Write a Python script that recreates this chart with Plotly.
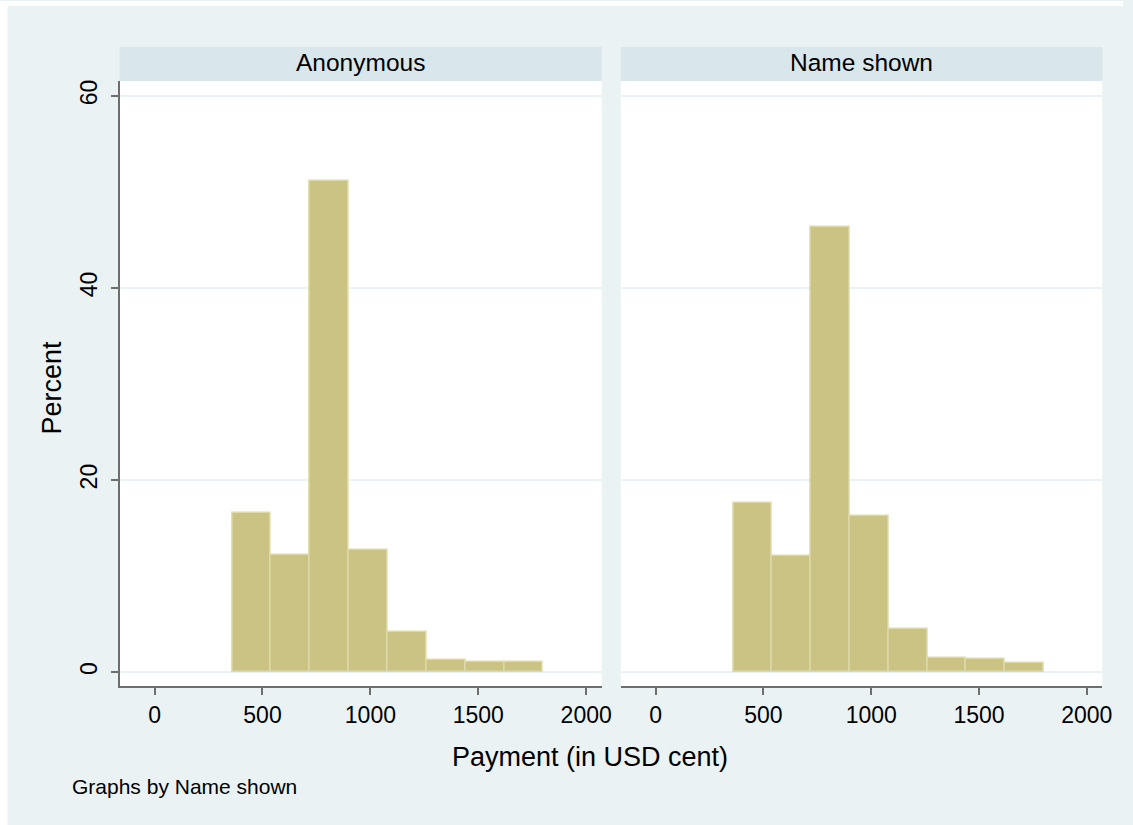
import plotly.graph_objects as go

# ---- data ----
bin_left = [360, 540, 720, 900, 1080, 1260, 1440, 1620]
bin_width = 180
anonymous_pct = [16.6, 12.2, 51.2, 12.7, 4.2, 1.3, 1.1, 1.1]
name_shown_pct = [17.6, 12.1, 46.4, 16.3, 4.5, 1.5, 1.4, 1.0]
panel_titles = ["Anonymous", "Name shown"]
x_ticks = [0, 500, 1000, 1500, 2000]
y_ticks = [0, 20, 40, 60]

W, H = 1133, 825
SX = 0.99  # observed horizontal shrink of the rendered page
BG = "#EAF2F3"
STRIP = "#D9E6EB"
BAR = "#CBC383"
BAR_LINE = "#DEDAA8"
AXIS = "#6E6E6E"
FONT = "Liberation Sans, Arial, sans-serif"

def px(x):
    return min(1.0, x / SX / W)

def py(y):
    return 1 - y / H

centers = [b + bin_width / 2 for b in bin_left]

fig = go.Figure()
for i, vals in enumerate([anonymous_pct, name_shown_pct]):
    fig.add_trace(go.Bar(
        x=centers, y=vals, width=bin_width,
        marker=dict(color=BAR, line=dict(color=BAR_LINE, width=1.5)),
        xaxis="x" if i == 0 else "x2", yaxis="y" if i == 0 else "y2",
        showlegend=False, hoverinfo="skip"))

plot_top, plot_bot = 80, 686
panels = [(119.5, 601), (620, 1101)]
xr = [-162, 2072]
yr = [-1.46, 61.56]

common_x = dict(range=xr, tickvals=x_ticks, ticks="outside", ticklen=7, tickwidth=1.5,
                tickcolor=AXIS, showline=True, linecolor=AXIS, linewidth=1.5,
                showgrid=False, zeroline=False,
                tickfont=dict(family=FONT, size=23, color="black"), ticklabelstandoff=0)
fig.update_layout(
    xaxis=dict(domain=[px(panels[0][0]), px(panels[0][1])], anchor="y", **common_x),
    xaxis2=dict(domain=[px(panels[1][0]), px(panels[1][1])], anchor="y2", **common_x),
    yaxis=dict(domain=[py(plot_bot), py(plot_top)], anchor="x", range=yr, tickvals=y_ticks,
               ticks="outside", ticklen=7, tickwidth=1.5, tickcolor=AXIS, showline=True,
               linecolor=AXIS, linewidth=1.5, showgrid=True, gridcolor=BG, gridwidth=2,
               zeroline=False, tickangle=-90, ticklabelstandoff=5,
               tickfont=dict(family=FONT, size=23, color="black")),
    yaxis2=dict(domain=[py(plot_bot), py(plot_top)], anchor="x2", range=yr, tickvals=y_ticks,
                showticklabels=False, ticks="", showline=False, showgrid=True, gridcolor=BG,
                gridwidth=2, zeroline=False),
)

shapes = []
# thin white border at top and left, as in the reference image
shapes.append(dict(type="rect", xref="paper", yref="paper", x0=0, x1=1, y0=py(5), y1=1,
                   fillcolor="white", line=dict(width=0), layer="below"))
shapes.append(dict(type="rect", xref="paper", yref="paper", x0=0, x1=px(7.5), y0=0, y1=1,
                   fillcolor="white", line=dict(width=0), layer="below"))
annotations = []
for (x0, x1), title in zip(panels, panel_titles):
    shapes.append(dict(type="rect", xref="paper", yref="paper", x0=px(x0), x1=px(x1),
                       y0=py(80), y1=py(46), fillcolor=STRIP, line=dict(width=0), layer="below"))
    annotations.append(dict(text=title, xref="paper", yref="paper", x=px((x0 + x1) / 2),
                            y=py(62), xanchor="center", yanchor="middle", showarrow=False,
                            font=dict(family=FONT, size=24.5, color="black")))

annotations.append(dict(text="Percent", xref="paper", yref="paper", x=px(51), y=py(387),
                        xanchor="center", yanchor="middle", textangle=-90, showarrow=False,
                        font=dict(family=FONT, size=27, color="black")))
annotations.append(dict(text="Payment (in USD cent)", xref="paper", yref="paper", x=px(589),
                        y=py(757), xanchor="center", yanchor="middle", showarrow=False,
                        font=dict(family=FONT, size=27, color="black")))
annotations.append(dict(text="Graphs by Name shown", xref="paper", yref="paper", x=px(70),
                        y=py(786), xanchor="left", yanchor="middle", showarrow=False,
                        font=dict(family=FONT, size=21, color="black")))

fig.update_layout(
    width=W, height=H, margin=dict(l=0, r=0, t=0, b=0), autosize=False,
    paper_bgcolor=BG, plot_bgcolor="white", bargap=0,
    shapes=shapes, annotations=annotations,
)

fig.write_html("out.html", config={"responsive": False, "displayModeBar": False},
               post_script="document.documentElement.style.margin='0';"
                           "document.body.style.margin='0';"
                           "document.body.style.overflow='hidden';")
